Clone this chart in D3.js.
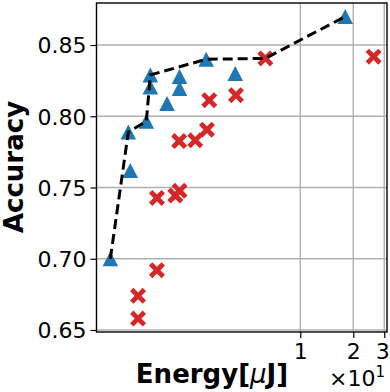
<!DOCTYPE html>
<html>
<head>
<meta charset="utf-8">
<script src="https://cdn.jsdelivr.net/npm/d3@7"></script>
<style>
  body { margin: 0; background: #fff; }
  svg { display: block; font-family: "DejaVu Sans", sans-serif; }
  .axis path { display: none; }
  .axis line { stroke: #000; stroke-width: 1.2; }
  .axis text { font-size: 22px; fill: #000; font-family: "DejaVu Sans", sans-serif; }
  .grid line { stroke: #b0b0b0; stroke-width: 1.4; }
  .label { font-size: 26px; font-weight: bold; text-anchor: middle; }
</style>
</head>
<body>
<div id="chart"></div>
<script>
// energy in uJ, accuracy
var tri_energy = [0.833, 1.054, 1.081, 1.334, 1.406, 1.406, 1.749, 2.06, 2.06, 2.92, 4.27, 18.0];
var tri_acc    = [0.700, 0.789, 0.762, 0.7965, 0.829, 0.8205, 0.809, 0.828, 0.8195, 0.840, 0.830, 0.870];

var x_energy = [6.33, 26.1, 3.04, 4.31, 2.05, 2.53, 2.95, 1.533, 1.95, 2.06, 1.533, 1.197, 1.197];
var x_acc    = [0.8406, 0.8418, 0.8113, 0.8148, 0.7826, 0.7831, 0.7906, 0.7427, 0.7444, 0.7477, 0.692, 0.674, 0.658];

var y_ticks = [0.65, 0.70, 0.75, 0.80, 0.85];
var x_ticks = [10, 20, 30];

var params = {
    width: 390, height: 392,
    left: 96.5, right: 387, top: 3, bottom: 332
};

var svg = d3.select("#chart").append("svg")
    .attr("width", params.width)
    .attr("height", params.height);

var x = d3.scaleLog().domain([0.695, 31.1]).range([params.left, params.right]);
var y = d3.scaleLinear().domain([0.6486, 0.8795]).range([params.bottom, params.top]);

// grid
svg.append("g").attr("class", "grid")
    .selectAll("line").data(y_ticks).enter().append("line")
        .attr("x1", params.left).attr("x2", params.right)
        .attr("y1", d => y(d)).attr("y2", d => y(d));
svg.append("g").attr("class", "grid")
    .selectAll("line").data(x_ticks).enter().append("line")
        .attr("y1", params.top).attr("y2", params.bottom)
        .attr("x1", d => x(d)).attr("x2", d => x(d));

// axes
svg.append("g")
    .attr("class", "axis")
    .attr("transform", "translate(" + params.left + ",0)")
    .call(d3.axisLeft(y).tickValues(y_ticks).tickFormat(d3.format(".2f")).tickSize(6).tickPadding(4))
    .selectAll(".tick text").attr("dy", "0.36em");

svg.append("g")
    .attr("class", "axis")
    .attr("transform", "translate(0," + params.bottom + ")")
    .call(d3.axisBottom(x).tickValues(x_ticks).tickFormat(d => d / 10).tickSize(6).tickPadding(5))
    .selectAll(".tick text").attr("dx", d => d == 30 ? "-2px" : 0);

// frame
svg.append("rect")
    .attr("x", params.left).attr("y", params.top)
    .attr("width", params.right - params.left)
    .attr("height", params.bottom - params.top)
    .attr("fill", "none").attr("stroke", "#000").attr("stroke-width", 1.4);

// markers
var red = d3.zip(x_energy, x_acc);
var blue = d3.zip(tri_energy, tri_acc);

svg.append("g").selectAll("path").data(red).enter().append("path")
    .attr("d", "M-8,-4.6 L-4.6,-8 L0,-3.4 L4.6,-8 L8,-4.6 L3.4,0 L8,4.6 L4.6,8 L0,3.4 L-4.6,8 L-8,4.6 L-3.4,0 Z")
    .attr("transform", d => "translate(" + x(d[0]) + "," + y(d[1]) + ")")
    .attr("fill", "#d62728");

svg.append("g").selectAll("path").data(blue).enter().append("path")
    .attr("d", "M0,-7.5 L7.8,7.5 L-7.8,7.5 Z")
    .attr("transform", d => "translate(" + x(d[0]) + "," + y(d[1]) + ")")
    .attr("fill", "#1f77b4");

// pareto front over all points
var all = blue.concat(red).sort((a, b) => a[0] - b[0]);
var front = [], best = -1;
all.forEach(function(d) { if (d[1] > best) { front.push(d); best = d[1]; } });

svg.append("path")
    .datum(front)
    .attr("d", d3.line().x(d => x(d[0])).y(d => y(d[1])))
    .attr("fill", "none")
    .attr("stroke", "#000")
    .attr("stroke-width", 3)
    .attr("stroke-dasharray", "10,5");

// labels
svg.append("text")
    .attr("class", "label")
    .attr("transform", "translate(23,167) rotate(-90)")
    .text("Accuracy");

var xl = svg.append("text")
    .attr("class", "label")
    .attr("x", 212).attr("y", 383);
xl.append("tspan").text("Energy[");
xl.append("tspan").attr("font-style", "italic").attr("font-weight", "normal").text("μ");
xl.append("tspan").text("J]");

var off = svg.append("text")
    .attr("x", 385).attr("y", 386)
    .attr("text-anchor", "end")
    .attr("font-size", 22);
off.append("tspan").text("×10");
off.append("tspan").attr("font-size", 15).attr("dy", -9).text("1");
</script>
</body>
</html>
